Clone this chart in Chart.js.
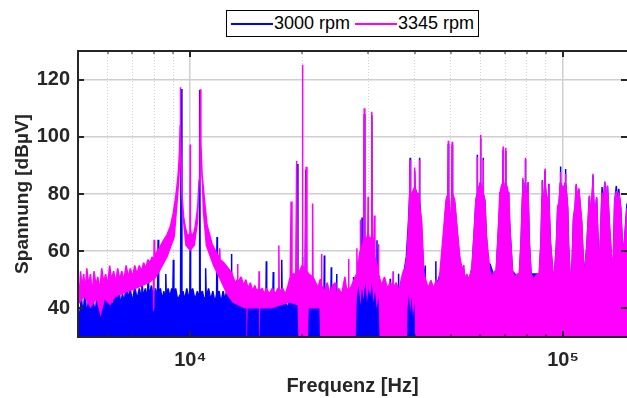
<!DOCTYPE html>
<html>
<head>
<meta charset="utf-8">
<script src="https://cdn.jsdelivr.net/npm/chart.js@4.4.1/dist/chart.umd.min.js"></script>
<style>
  body { margin: 0; background: #fff; }
  #wrap { position: relative; width: 627px; height: 398px; }
  #legend {
    position: absolute; left: 226px; top: 10px; width: 253px; height: 27px;
    box-sizing: border-box; border: 1px solid #000; background: #fff;
    display: flex; align-items: center; padding-left: 4px;
    font: 18px "Liberation Sans", Arial, sans-serif; color: #000;
  }
  #legend .item { display: flex; align-items: center; margin-right: 5px; white-space: nowrap; }
  #legend .ln { display: inline-block; width: 42px; height: 2px; margin-right: 1px; }
</style>
</head>
<body>
<div id="wrap"><canvas id="spektrum"></canvas><div id="legend"></div></div>
<script>
const FONT = '"Liberation Sans", Arial, sans-serif';

// Achsen
const xGrid = [6000, 7000, 8000, 9000, 10000, 20000, 30000, 40000, 50000, 60000, 70000, 80000, 90000, 100000];
const xLabels = { 10000: '10⁴', 100000: '10⁵' };
const yTicks = [40, 60, 80, 100, 120];

// Spektren, je [Frequenz Hz, Pegel dBµV]
const blue3000 = [
  [5000, 42], [5050, 35], [5100, 44], [5160, 38], [5220, 46], [5280, 37], [5350, 45], [5420, 40],
  [5490, 43], [5560, 38], [5630, 46], [5700, 41], [5780, 44], [5860, 39], [5940, 47], [6020, 41],
  [6100, 45], [6190, 40], [6280, 46], [6370, 42], [6440, 48], [6500, 41], [6580, 45], [6660, 42],
  [6740, 50], [6800, 43], [6900, 47], [7000, 42], [7100, 48], [7200, 43], [7300, 47], [7390, 44],
  [7420, 51], [7470, 44], [7580, 47], [7680, 43], [7710, 52.5], [7760, 44], [7870, 48], [7970, 43],
  [8060, 47], [8170, 44], [8200, 64], [8230, 44], [8320, 47], [8410, 43], [8500, 46], [8570, 43],
  [8600, 52], [8630, 43], [8720, 47], [8820, 44], [8920, 47], [8980, 44], [9010, 57], [9040, 44],
  [9140, 47], [9250, 43], [9420, 45], [9460, 116.7], [9500, 45], [9560, 46], [9670, 43], [9790, 47],
  [9900, 44], [9975, 45], [10000, 64.5], [10025, 45], [10150, 47], [10300, 43], [10450, 46], [10560, 44],
  [10600, 116.4], [10640, 45], [10780, 46], [10900, 43], [10980, 44], [11000, 54], [11040, 44], [11200, 47],
  [11350, 43], [11500, 46], [11650, 42], [11770, 45], [11800, 65], [11830, 45], [11950, 46], [12100, 42],
  [12250, 46], [12400, 43], [12550, 47], [12700, 42], [12870, 45], [12900, 59], [12930, 45], [13100, 43],
  [13250, 46], [13400, 42], [13600, 45], [13650, 51], [13700, 44], [13850, 46], [14000, 42], [14200, 45],
  [14400, 41], [14600, 44], [14800, 40], [15000, 43], [15200, 40], [15400, 44], [15600, 40], [15800, 43],
  [15960, 42], [16000, 56.5], [16040, 42], [16300, 44], [16550, 41], [16650, 42], [16700, 52.7], [16750, 42],
  [17000, 44], [17300, 41], [17550, 43], [17600, 57], [17650, 42], [17900, 44], [18200, 40], [18500, 43],
  [18800, 41], [19250, 45], [19350, 90.5], [19450, 45], [19700, 44], [19950, 46], [20000, 58], [20050, 46],
  [20320, 46], [20420, 88.5], [20520, 46], [20900, 44], [21200, 46], [21500, 44], [21750, 45], [21800, 48.7],
  [21850, 44], [22300, 46], [22600, 44], [22850, 45], [22900, 58.5], [22950, 44], [23400, 45], [23850, 45],
  [23900, 54.4], [23950, 44], [24400, 46], [24650, 44], [24700, 52], [24750, 42], [25200, 44], [25700, 41],
  [26200, 44], [26700, 42], [27000, 45], [27350, 44], [27400, 51], [27450, 43], [28000, 46], [28400, 48.7],
  [28850, 48], [28900, 71.8], [28950, 48], [29200, 50], [29300, 108], [29400, 50], [29700, 48.5], [29950, 50],
  [30000, 62], [30050, 50], [30300, 48.5], [30600, 50], [30700, 107.5], [30800, 50], [31200, 48], [31650, 48],
  [31700, 63.8], [31750, 48], [32200, 46], [32800, 42], [33500, 45], [34350, 44], [34400, 50.4], [34450, 43],
  [35300, 44], [36150, 44], [36200, 52.1], [36250, 44], [37000, 46], [37500, 53], [38000, 58], [38500, 70],
  [38800, 80], [38900, 92.7], [39000, 80], [39450, 80], [39900, 82], [40000, 88], [40100, 82], [40600, 80],
  [41100, 80], [41200, 92.7], [41300, 78], [41700, 68], [42200, 55], [42650, 48], [42700, 55], [42750, 47],
  [44000, 48], [45550, 47], [45600, 56.5], [45650, 48], [46300, 50], [46800, 52], [47350, 52], [47400, 56],
  [47900, 66], [48600, 77], [49150, 80], [49250, 97.5], [49350, 80], [49800, 64], [50350, 80], [50450, 97.3],
  [50550, 80], [51200, 77], [51900, 68], [52800, 57], [52950, 55.6], [53700, 52], [54200, 52.3], [55000, 48],
  [56000, 50], [57000, 54], [57700, 65], [58400, 77.5], [58850, 80], [58900, 93.7], [58950, 80], [59500, 82],
  [60000, 84], [60100, 99.5], [60200, 84], [60700, 81], [61050, 80], [61100, 92.7], [61150, 80], [61700, 77.5],
  [62300, 65], [63000, 55], [63700, 55.6], [65000, 52], [66200, 53], [67100, 67], [67650, 76], [67700, 80.6],
  [67750, 76], [68400, 82], [69000, 84], [69100, 95.5], [69200, 84], [69700, 74], [70100, 84], [70200, 95],
  [70300, 84], [70900, 81], [71450, 76], [71500, 80.6], [71550, 76], [72100, 67], [73200, 53], [74300, 52],
  [75500, 50], [76400, 52], [77200, 63], [77900, 79], [78000, 85], [78100, 78], [78600, 76], [79200, 84],
  [79300, 92], [79400, 84], [80000, 76], [80500, 79], [80600, 84], [80700, 78], [81200, 63], [82100, 52],
  [84000, 52], [86400, 52], [87300, 63], [87900, 79], [88000, 84.8], [88100, 78], [88700, 76], [89400, 83],
  [89500, 88], [89600, 83], [90500, 76], [91500, 79], [91600, 83.6], [91700, 78], [92500, 63], [94000, 52],
  [94900, 52], [96000, 62], [96800, 75], [97600, 76], [98400, 84], [98500, 89.6], [98600, 84], [100000, 81],
  [101500, 84], [101600, 88.7], [101700, 84], [102900, 75], [103500, 62], [104400, 52], [105600, 52], [106700, 71],
  [107800, 75], [108500, 83], [109400, 77], [110300, 81.5], [111300, 75], [112200, 70], [113700, 52], [114500, 55],
  [115600, 60], [116800, 70], [117700, 79], [118800, 71], [120200, 83], [120300, 86.5], [120400, 83], [121500, 71],
  [123100, 78.5], [124400, 60], [125700, 60], [126500, 70], [127300, 82.4], [128300, 75], [129500, 84], [130500, 75],
  [131600, 82.7], [133000, 70], [135000, 56], [136400, 54], [137600, 77], [139000, 82.8], [140000, 76], [141100, 81.8],
  [142800, 75], [144800, 58], [146500, 65], [148500, 76.7]
];

const magenta3345 = [
  [5000, 50], [5040, 44], [5080, 53], [5130, 47], [5180, 52], [5230, 46], [5280, 54], [5340, 48],
  [5400, 52], [5460, 45], [5520, 53], [5590, 48], [5650, 51], [5720, 46], [5790, 54], [5860, 49],
  [5930, 52], [6000, 48], [6080, 55], [6150, 50], [6230, 53], [6310, 49], [6390, 54], [6470, 50],
  [6550, 53], [6640, 50], [6730, 55], [6820, 51], [6910, 54], [7000, 51], [7100, 55], [7200, 52],
  [7300, 55], [7400, 53], [7500, 56], [7600, 54], [7700, 57], [7800, 56], [7900, 58], [7960, 57],
  [7980, 40], [8000, 64], [8030, 58], [8150, 60], [8300, 61.5], [8480, 63.8], [8650, 65.5], [8840, 68.5],
  [9000, 73], [9120, 78], [9220, 83], [9300, 88], [9360, 95], [9395, 104], [9410, 117.3], [9425, 104],
  [9460, 90], [9500, 80], [9600, 72], [9700, 68.5], [9800, 66], [9900, 65.5], [9970, 66], [9985, 68],
  [10000, 97.3], [10015, 68], [10060, 66], [10150, 65.5], [10250, 67], [10310, 68.5], [10420, 73], [10480, 76],
  [10560, 85], [10620, 98], [10650, 116.6], [10680, 98], [10760, 87], [10900, 79], [11100, 69], [11450, 62.5],
  [11800, 59], [11970, 58], [12000, 61], [12030, 57], [12300, 56], [12900, 52.6], [13200, 49], [13380, 50],
  [13400, 55.5], [13430, 49], [13700, 51], [13900, 48], [14100, 50], [14300, 47], [14500, 49], [14700, 46],
  [14900, 48], [15100, 46], [15280, 47], [15300, 53], [15330, 46], [15600, 47], [15800, 45], [16000, 47],
  [16300, 45], [16600, 47], [16900, 45], [17200, 47], [17280, 47], [17300, 62], [17330, 46], [17700, 47],
  [18000, 45], [18300, 48], [18550, 51], [18650, 77.4], [18750, 52], [19200, 52], [19300, 91.5], [19400, 52],
  [19650, 53], [19950, 55], [20000, 125.2], [20050, 55], [20370, 53], [20470, 89.5], [20570, 53], [20800, 52],
  [21250, 51], [21300, 76.7], [21350, 51], [21700, 49], [22000, 47], [22300, 50], [22450, 50], [22500, 59],
  [22550, 48], [22900, 46], [23300, 49], [23700, 45], [24100, 48], [24500, 49], [24600, 44], [25000, 47],
  [25500, 45], [26000, 51], [26300, 46], [26550, 47], [26600, 57.3], [26650, 46], [27100, 48], [27700, 51],
  [27950, 52], [28000, 61], [28050, 52], [28400, 58], [28550, 60], [28600, 71], [28650, 60], [29000, 62],
  [29200, 65], [29300, 110], [29400, 65], [29700, 64], [29950, 66], [30000, 79], [30050, 66], [30300, 64],
  [30600, 65], [30700, 108.8], [30800, 65], [31100, 62], [31200, 72.5], [31300, 58], [31700, 55], [31950, 53],
  [32000, 62.4], [32050, 52], [32600, 48], [33200, 51], [33800, 47], [34400, 49], [34950, 48], [35000, 53],
  [35050, 47], [35700, 49], [36300, 46], [36800, 50], [37300, 53], [37700, 54], [38100, 58], [38500, 68],
  [38800, 80], [38900, 92], [39000, 80], [39450, 80.5], [39900, 82], [40000, 89.3], [40100, 82], [40600, 80],
  [41100, 80], [41200, 92], [41300, 76], [41800, 70], [42300, 53], [42800, 50], [43500, 47], [44200, 49.8],
  [45000, 47], [45700, 50], [46300, 48], [46800, 53], [47900, 68.2], [48600, 78.1], [49150, 80], [49250, 98.6],
  [49350, 80], [49800, 65], [50350, 80], [50450, 98.3], [50550, 80], [51200, 78], [51900, 69], [52800, 58.5],
  [53700, 53], [54200, 55.2], [54500, 50], [55200, 52], [56000, 50], [57000, 54.4], [57700, 65.5], [58400, 78],
  [58850, 80], [58900, 93], [58950, 80], [59500, 82], [60000, 84], [60100, 100.7], [60200, 84], [60700, 81.5],
  [61050, 80], [61100, 92], [61150, 80], [61700, 78], [62300, 65.5], [63700, 53], [64500, 51], [65500, 53],
  [66200, 53], [67100, 67.6], [67700, 80], [68400, 82.8], [69000, 84], [69100, 96.6], [69200, 84], [69700, 75],
  [70100, 84], [70200, 96.1], [70300, 84], [70900, 81.8], [71500, 80], [72100, 67.6], [73200, 53], [74300, 51],
  [75400, 52], [76400, 52], [77200, 63.7], [77900, 80], [78000, 85.7], [78100, 78], [78600, 77], [79200, 84],
  [79300, 92.7], [79400, 84], [80000, 77], [80500, 80], [80600, 84.2], [80700, 78], [81200, 63.7], [82100, 52],
  [83500, 50], [85000, 52], [86400, 52], [87300, 63.7], [87900, 80], [88000, 84.5], [88100, 78], [88700, 77],
  [89400, 84], [89500, 88.8], [89600, 84], [90500, 77], [91500, 80], [91600, 83.3], [91700, 78], [92500, 63.7],
  [94000, 52], [94900, 52], [96000, 62], [96800, 75.7], [97600, 77], [98400, 84], [98500, 87.7], [98600, 84],
  [100000, 81.4], [101500, 84], [101600, 87], [101700, 84], [102900, 75.7], [103500, 62], [104400, 52], [105600, 52],
  [106700, 71.9], [107800, 76], [108500, 83.6], [109300, 77], [110300, 82], [111300, 76], [112200, 71], [113700, 52],
  [114500, 54], [115600, 60], [116800, 70], [117700, 79.5], [118800, 71], [120200, 84], [120300, 87.1], [120400, 84],
  [121500, 71], [123100, 78.9], [124400, 60], [125700, 60], [126500, 71], [127300, 80.5], [128300, 75], [129500, 84.4],
  [130500, 75], [131600, 83], [133000, 71], [135000, 58], [136400, 55], [137600, 77.2], [139000, 81], [140000, 76],
  [141100, 80.6], [142800, 75.5], [144800, 58], [146500, 65], [148500, 75]
];

// untere Kante des dichten 3345-rpm-Bands (darunter bleibt 3000 rpm sichtbar)
const magentaFloor = [
  [5000, 41], [5200, 44], [5400, 40], [5600, 43], [5750, 37], [5900, 43], [6100, 41], [6300, 44],
  [6600, 45], [6900, 46], [7200, 47], [7500, 48], [7800, 49], [7950, 50], [7990, 39], [8030, 50],
  [8300, 53], [8700, 58], [9100, 65], [9300, 80], [9390, 92], [9430, 92], [9500, 74], [9700, 62],
  [10000, 60], [10300, 62], [10500, 70], [10620, 90], [10690, 90], [10800, 74], [11000, 62], [11500, 55],
  [12000, 50], [12500, 45], [13000, 42], [14000, 40], [14150, 40], [14200, 30], [14260, 40], [15300, 40],
  [15350, 30], [15420, 40], [16500, 40], [17500, 41], [18500, 42], [19400, 41], [19500, 30], [20700, 30],
  [20800, 40], [22200, 40], [22300, 30], [27800, 30], [28000, 44], [28300, 48], [28600, 41], [28900, 47],
  [29200, 43], [29500, 49], [29800, 42], [30100, 47], [30400, 44], [30700, 49], [31000, 42], [31300, 46],
  [31600, 40], [32000, 44], [32200, 30], [38200, 30], [38300, 40], [38600, 45], [38900, 38], [39200, 44],
  [39600, 37], [40000, 42], [40100, 30], [148500, 30]
];

const isDecade = v => v === 10000 || v === 100000;
const axisFont = { family: FONT, size: 20, weight: 'bold' };

// Rahmen mit nach innen zeigenden Ticks (wie MATLAB)
const frame = {
  id: 'frame',
  afterDatasetsDraw(chart) {
    const { ctx, chartArea: a, scales: { x, y } } = chart;
    ctx.save();
    ctx.strokeStyle = '#262626';
    ctx.lineWidth = 2;
    ctx.beginPath();
    ctx.moveTo(a.right, a.top); ctx.lineTo(a.left, a.top);
    ctx.lineTo(a.left, a.bottom); ctx.lineTo(a.right, a.bottom);
    ctx.stroke();
    xGrid.forEach(v => {
      const px = Math.round(x.getPixelForValue(v));
      const len = isDecade(v) ? 6 : 3;
      ctx.lineWidth = isDecade(v) ? 2 : 1;
      ctx.beginPath();
      ctx.moveTo(px, a.top); ctx.lineTo(px, a.top + len);
      ctx.moveTo(px, a.bottom); ctx.lineTo(px, a.bottom - len);
      ctx.stroke();
    });
    ctx.lineWidth = 2;
    ctx.beginPath();
    yTicks.forEach(v => {
      const py = Math.round(y.getPixelForValue(v));
      ctx.moveTo(a.left, py); ctx.lineTo(a.left + 6, py);
      ctx.moveTo(a.right, py); ctx.lineTo(a.right - 6, py);
    });
    ctx.stroke();
    ctx.restore();
  }
};

const chart = new Chart(document.getElementById('spektrum'), {
  type: 'line',
  data: {
    datasets: [
      { label: '3000 rpm', data: blue3000, borderColor: '#0000ff', backgroundColor: '#0000ff', fill: 'start', order: 2 },
      { label: '3345 rpm', data: magenta3345, borderColor: '#ff00ff', backgroundColor: '#ff00ff', fill: 2, order: 0 },
      { label: 'floor', data: magentaFloor, borderColor: 'rgba(0,0,0,0)', borderWidth: 0, fill: false, order: 1 }
    ]
  },
  options: {
    responsive: true,
    maintainAspectRatio: false,
    animation: false,
    events: [],
    layout: { padding: { top: 51, left: 0, right: 0, bottom: 0 } },
    elements: {
      point: { radius: 0 },
      line: { borderWidth: 1.5, tension: 0, borderJoinStyle: 'bevel' }
    },
    plugins: { legend: { display: false }, tooltip: { enabled: false } },
    scales: {
      x: {
        type: 'logarithmic',
        min: 5000,
        max: 148500,
        afterBuildTicks: s => { s.ticks = xGrid.map(v => ({ value: v })); },
        afterFit: s => { s.height = 61; },
        ticks: {
          autoSkip: false, maxRotation: 0, padding: 11, color: '#262626', font: axisFont,
          callback: v => xLabels[v] || ''
        },
        grid: {
          drawTicks: false,
          color: c => (c.tick && isDecade(c.tick.value)) ? '#cfcfcf' : '#d6d6d6',
          lineWidth: c => (c.tick && isDecade(c.tick.value)) ? 1.5 : 1
        },
        border: { display: false, dash: c => (c.tick && !isDecade(c.tick.value)) ? [1, 2] : [] },
        title: { display: true, text: 'Frequenz [Hz]', color: '#262626', font: axisFont, padding: { top: 0, bottom: 0 } }
      },
      y: {
        min: 30,
        max: 130,
        afterBuildTicks: s => { s.ticks = yTicks.map(v => ({ value: v })); },
        afterFit: s => { s.width = 78; },
        ticks: { padding: 8, color: '#262626', font: axisFont },
        grid: { drawTicks: false, color: '#cfcfcf', lineWidth: 1.5 },
        border: { display: false },
        title: {
          display: true, text: 'Spannung [dBµV]', color: '#262626',
          font: { family: FONT, size: 19, weight: 'bold' }, padding: { top: 11, bottom: 0 }
        }
      }
    }
  },
  plugins: [frame]
});

// Legende mit Rahmen, ueber der Achse zentriert
const legendBox = document.getElementById('legend');
chart.data.datasets.slice(0, 2).forEach(ds => {
  const item = document.createElement('span');
  item.className = 'item';
  item.innerHTML = '<span class="ln" style="background:' + ds.borderColor + '"></span>' + ds.label;
  legendBox.appendChild(item);
});
</script>
</body>
</html>
